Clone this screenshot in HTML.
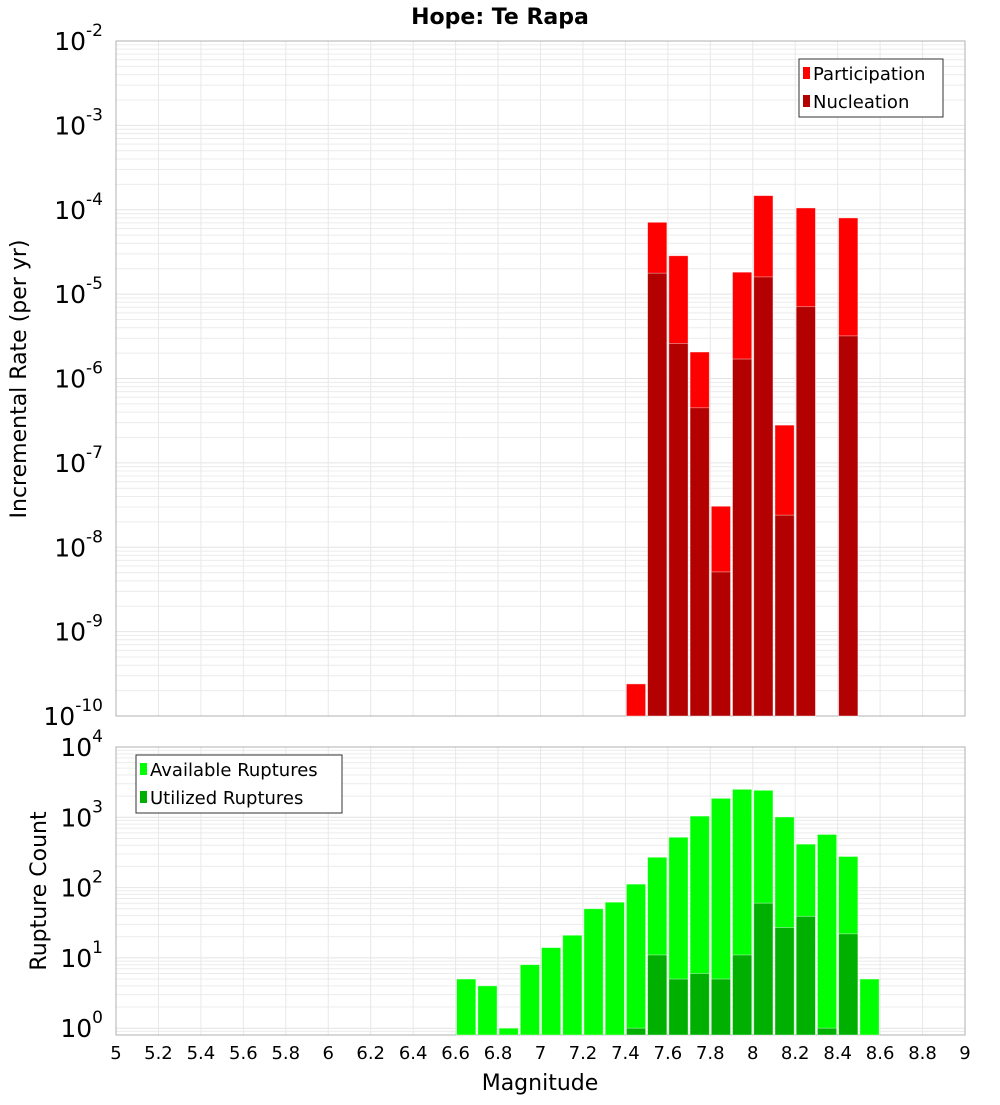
<!DOCTYPE html>
<html><head><meta charset="utf-8"><style>
body{margin:0;background:#fff;}
svg text{font-family:"DejaVu Sans","Liberation Sans",sans-serif;}
</style></head><body>
<svg id="chart" width="1000" height="1100" xmlns="http://www.w3.org/2000/svg">
<text x="500" y="24" text-anchor="middle" font-size="22" font-weight="bold">Hope: Te Rapa</text>
<g id="top"></g><g id="bot"></g>
</svg>
<script>
const bins = [6.65,6.75,6.85,6.95,7.05,7.15,7.25,7.35,7.45,7.55,7.65,7.75,7.85,7.95,8.05,8.15,8.25,8.35,8.45,8.55];
const participation = [0,0,0,0,0,0,0,0,2.4e-10,7.1e-5,2.85e-5,2.06e-6,3.06e-8,1.82e-5,1.47e-4,2.8e-7,1.05e-4,0,8e-5,0];
const nucleation = [0,0,0,0,0,0,0,0,0,1.77e-5,2.6e-6,4.5e-7,5.1e-9,1.7e-6,1.6e-5,2.4e-8,7.1e-6,0,3.2e-6,0];
const available = [5,4,1,8,14,21,50,62,112,270,520,1040,1860,2500,2420,1010,415,570,277,5];
const utilized = [0,0,0,0,0,0,0,0,1,11,5,6,5,11,60,27,39,1,22,0];
const xTicks = [5,5.2,5.4,5.6,5.8,6,6.2,6.4,6.6,6.8,7,7.2,7.4,7.6,7.8,8,8.2,8.4,8.6,8.8,9];
const topDecades = [-10,-9,-8,-7,-6,-5,-4,-3,-2];
const botDecades = [0,1,2,3,4];

const NS="http://www.w3.org/2000/svg";
const X0=116,X1=965;
const xs=v=>X0+(v-5)/4*(X1-X0);
function mk(p,tag,at){const e=document.createElementNS(NS,tag);for(const k in at)e.setAttribute(k,at[k]);p.appendChild(e);return e;}
function panel(g,top,bottom,lmin,lmax,decades){
  const ys=v=>bottom-(Math.log10(v)-lmin)/(lmax-lmin)*(bottom-top);
  // grid
  for(let d=Math.floor(lmin);d<Math.ceil(lmax);d++){for(let m=1;m<10;m++){const v=m*Math.pow(10,d);const lv=Math.log10(v);if(lv<lmin||lv>lmax)continue;const y=ys(v);
    const l=mk(g,'line',{x1:X0,x2:X1,y1:y,y2:y,stroke:m==1?'#e4e4e4':'#ececec','stroke-width':1});
    }}
  xTicks.forEach(t=>{if(t==5||t==9)return;const x=xs(t);const l=mk(g,'line',{x1:x,x2:x,y1:top,y2:bottom,stroke:'#e8e8e8'});
    });
  const r=mk(g,'rect',{x:X0,y:top,width:X1-X0,height:bottom-top,fill:'none',stroke:'#b0b0b0'});
  
  decades.forEach(d=>{const y=ys(Math.pow(10,d));const t=mk(g,'text',{x:103,y:y+9,'text-anchor':'end','font-size':25});
    
    t.textContent='10';const s=mk(t,'tspan',{dy:-14,'font-size':17});s.textContent=String(d);
  });
  return ys;
}
function bars(g,ys,vals,color,bottom,name){
  vals.forEach((v,i)=>{if(!v)return;const x=xs(bins[i]-0.05)+1;const w=xs(bins[i]+0.05)-1-x;const y=ys(v);
    const b=mk(g,'rect',{x:x,y:y,width:w,height:bottom-y,fill:color,stroke:'rgba(255,255,255,0.5)','stroke-width':0.8});
    });
}
const gt=document.getElementById('top'),gb=document.getElementById('bot');
const yt=panel(gt,41,716,-10,-2,topDecades);
bars(gt,yt,participation,'#ff0000',716,'participation-bar');
bars(gt,yt,nucleation,'#b30000',716,'nucleation-bar');
const yb=panel(gb,747,1035,Math.log10(0.8),4,botDecades);
bars(gb,yb,available,'#00ff00',1035,'available-ruptures-bar');
bars(gb,yb,utilized,'#00b000',1035,'utilized-ruptures-bar');
xTicks.forEach(t=>{const e=mk(gb,'text',{x:xs(t),y:1059,'text-anchor':'middle','font-size':18});
  e.textContent=String(t);});
function txt(p,at,s,name){const e=mk(p,'text',at);e.textContent=s;return e;}
txt(gb,{x:540,y:1090,'text-anchor':'middle','font-size':22},'Magnitude','x-axis-title');
txt(gt,{x:0,y:0,'text-anchor':'middle','font-size':22,transform:'translate(26,379) rotate(-90)'},'Incremental Rate (per yr)','top-y-axis-title');
txt(gb,{x:0,y:0,'text-anchor':'middle','font-size':22,transform:'translate(46,891) rotate(-90)'},'Rupture Count','bottom-y-axis-title');
function legend(p,x,y,w,items,name){const lg=mk(p,'g',{});
  mk(lg,'rect',{x:x,y:y,width:w,height:58,fill:'#fff',stroke:'#333'});
  items.forEach((it,i)=>{const yy=y+14+i*28;const sw=mk(lg,'rect',{x:x+4,y:yy-6,width:7,height:12,fill:it[1]});
    
    txt(lg,{x:x+14,y:yy+7,'font-size':18},it[0],'legend-entry');});}
legend(gt,799,59,144,[['Participation','#ff0000'],['Nucleation','#b30000']],'top-legend');
legend(gb,136,755,206,[['Available Ruptures','#00ff00'],['Utilized Ruptures','#00b000']],'bottom-legend');
</script>
</body></html>
